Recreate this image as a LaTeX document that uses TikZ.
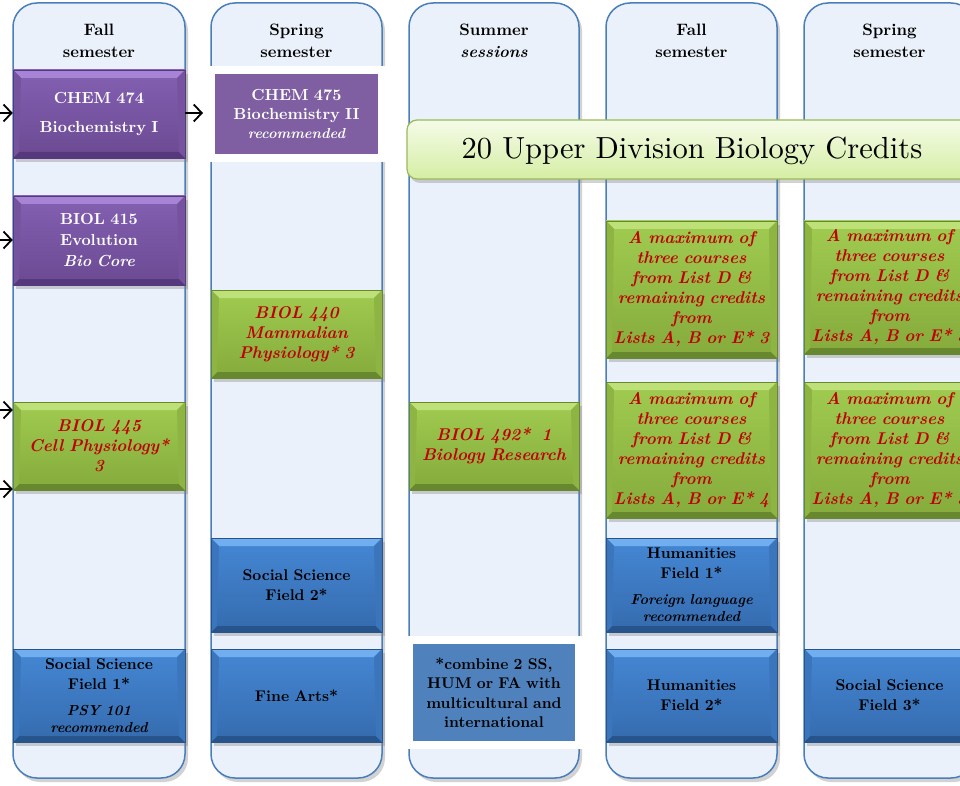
\documentclass[tikz,border=0pt]{standalone}
\usepackage{fontspec}
\setmainfont{lmroman10-regular.otf}[BoldFont=lmroman10-bold.otf,ItalicFont=lmroman10-italic.otf,BoldItalicFont=lmroman10-bolditalic.otf]
\usetikzlibrary{shadows,arrows.meta}
\definecolor{colfill}{HTML}{EAF1FA}
\definecolor{colborder}{HTML}{4A7EBB}
\definecolor{purpT}{HTML}{8460B2}
\definecolor{purpB}{HTML}{6B4A92}
\definecolor{purpL}{HTML}{A784D6}
\definecolor{purpD}{HTML}{56397C}
\definecolor{purpS}{HTML}{7A57A5}
\definecolor{purpflat}{HTML}{7F5FA1}
\definecolor{grnT}{HTML}{A0CB50}
\definecolor{grnB}{HTML}{85AB3C}
\definecolor{grnL}{HTML}{BEE078}
\definecolor{grnD}{HTML}{68882F}
\definecolor{grnS}{HTML}{91B847}
\definecolor{bluT}{HTML}{4587D4}
\definecolor{bluB}{HTML}{356BAE}
\definecolor{bluL}{HTML}{70AEF0}
\definecolor{bluD}{HTML}{28548C}
\definecolor{bluS}{HTML}{3D79C2}
\definecolor{bluflat}{HTML}{4F81BD}
\definecolor{redtxt}{HTML}{C00000}
\definecolor{titT}{HTML}{F5FBE8}
\definecolor{titB}{HTML}{D5EEA4}
\definecolor{titborder}{HTML}{9BBB59}
\tikzset{
  shad/.style={drop shadow={opacity=0.35,shadow xshift=3pt,shadow yshift=-4pt}},
  col/.style={draw=colborder,line width=1.5pt,fill=colfill,rounded corners=24pt,
    minimum width=172pt,minimum height=775pt,shad},
  hdr/.style={font=\bfseries\fontsize{16.5}{22}\selectfont,align=center,text width=160pt},
  bevel/.style n args={3}{path picture={
    \fill[#1] (path picture bounding box.north west) -- (path picture bounding box.north east)
      -- ([xshift=-8pt,yshift=-8pt]path picture bounding box.north east)
      -- ([xshift=8pt,yshift=-8pt]path picture bounding box.north west) -- cycle;
    \fill[#2] (path picture bounding box.south west) -- (path picture bounding box.south east)
      -- ([xshift=-6pt,yshift=6pt]path picture bounding box.south east)
      -- ([xshift=6pt,yshift=6pt]path picture bounding box.south west) -- cycle;
    \fill[#3] (path picture bounding box.north west)
      -- ([xshift=8pt,yshift=-8pt]path picture bounding box.north west)
      -- ([xshift=6pt,yshift=6pt]path picture bounding box.south west)
      -- (path picture bounding box.south west) -- cycle;
    \fill[#3] (path picture bounding box.north east)
      -- ([xshift=-8pt,yshift=-8pt]path picture bounding box.north east)
      -- ([xshift=-6pt,yshift=6pt]path picture bounding box.south east)
      -- (path picture bounding box.south east) -- cycle;
  }},
  boxbase/.style={minimum width=172pt,minimum height=88pt,inner sep=0pt,align=center,
    text width=168pt,shad},
  pbox/.style={boxbase,top color=purpT,bottom color=purpB,bevel={purpL}{purpD}{purpS!70!purpB},draw=purpD,line width=0.5pt,
    text=white,font=\bfseries\fontsize{16}{21}\selectfont},
  gbox/.style={boxbase,top color=grnT,bottom color=grnB,bevel={grnL}{grnD}{grnS!70!grnB},draw=grnD,line width=0.5pt,
    text=redtxt,font=\bfseries\itshape\fontsize{17}{20}\selectfont},
  bbox/.style={boxbase,top color=bluT,bottom color=bluB,bevel={bluL}{bluD}{bluS!70!bluB},draw=bluD,line width=0.5pt,
    text=black,font=\bfseries\fontsize{15.5}{20}\selectfont},
  framed/.style={draw=white,line width=8pt,inner sep=0pt,align=center,
    drop shadow={opacity=0.3,shadow xshift=3pt,shadow yshift=-4pt}},
  arr/.style={-{Straight Barb[length=8pt,width=17pt,line width=1.8pt]},line width=1.6pt,black}
}
\begin{document}
\begin{tikzpicture}[x=1pt,y=-1pt]
\clip (0,0) rectangle (960,786);
\fill[white] (0,0) rectangle (960,786);
% columns
\node[col] (c1) at (99,390.5) {};
\node[col,minimum width=171pt] (c2) at (296.5,390.5) {};
\node[col,minimum width=170pt] (c3) at (494,390.5) {};
\node[col,minimum width=171pt] (c4) at (691.5,390.5) {};
\node[col,minimum width=171pt] (c5) at (889.5,390.5) {};
% headers
\node[hdr] (h1) at (99,41) {Fall\\semester};
\node[hdr] (h2) at (296.5,41) {Spring\\semester};
\node[hdr] (h3) at (494,41) {Summer\\\textit{sessions}};
\node[hdr] (h4) at (691.5,41) {Fall\\semester};
\node[hdr] (h5) at (889.5,41) {Spring\\semester};
% purple
\node[pbox] (chem474) at (99,114) {CHEM 474\\[8pt]Biochemistry I};
\node[framed,fill=purpflat,minimum width=171pt,minimum height=88pt,text width=160pt,
  text=white,font=\bfseries\fontsize{16}{19}\selectfont] (chem475) at (296.5,114)
  {CHEM 475\\Biochemistry II\\{\itshape\fontsize{14.5}{19}\selectfont recommended}};
\node[pbox,minimum height=89pt] (biol415) at (99,240.5) {BIOL 415\\Evolution\\\textit{Bio Core}};
% green
\node[gbox,minimum width=171pt] (biol440) at (296.5,334) {BIOL 440\\Mammalian\\Physiology* 3};
\node[gbox] (biol445) at (99,446) {BIOL 445\\Cell Physiology*\\3};
\node[gbox,minimum width=170pt] (biol492) at (494,446) {BIOL 492*\ \ 1\\Biology Research};
\node[gbox,minimum width=171pt,minimum height=137pt] (l4a) at (691.5,289.5)
  {A maximum of\\three courses\\from List D \&\\remaining credits\\from\\Lists A, B or E* 3};
\node[gbox,minimum width=171pt,minimum height=133pt] (l5a) at (889.5,287.5)
  {A maximum of\\three courses\\from List D \&\\remaining credits\\from\\Lists A, B or E* 3};
\node[gbox,minimum width=171pt,minimum height=136pt] (l4b) at (691.5,450)
  {A maximum of\\three courses\\from List D \&\\remaining credits\\from\\Lists A, B or E* 4};
\node[gbox,minimum width=171pt,minimum height=136pt] (l5b) at (889.5,450)
  {A maximum of\\three courses\\from List D \&\\remaining credits\\from\\Lists A, B or E* 3};
% blue
\node[bbox,minimum width=171pt,minimum height=94pt] (ss2) at (296.5,585) {Social Science\\Field 2*};
\node[bbox,minimum width=171pt,minimum height=94pt] (hum1) at (691.5,585)
  {Humanities\\Field 1*\\[6pt]{\itshape\fontsize{14.5}{17}\selectfont Foreign language}\\[-3pt]{\itshape\fontsize{14.5}{17}\selectfont recommended}};
\node[bbox,minimum height=93pt] (ss1) at (99,695.5)
  {Social Science\\Field 1*\\[6pt]{\itshape\fontsize{14.5}{17}\selectfont PSY 101}\\[-3pt]{\itshape\fontsize{14.5}{17}\selectfont recommended}};
\node[bbox,minimum width=171pt,minimum height=93pt] (fa) at (296.5,695.5) {Fine Arts*};
\node[framed,fill=bluflat,minimum width=170pt,minimum height=105pt,text width=162pt,
  text=black,font=\bfseries\fontsize{15.5}{19.5}\selectfont] (comb) at (494,692.5)
  {*combine 2 SS,\\HUM or FA with\\multicultural and\\international};
\node[bbox,minimum width=171pt,minimum height=93pt] (hum2) at (691.5,695.5) {Humanities\\Field 2*};
\node[bbox,minimum width=171pt,minimum height=93pt] (ss3) at (889.5,695.5) {Social Science\\Field 3*};
% title
\node[rounded corners=10pt,draw=titborder,line width=1.2pt,top color=titT,bottom color=titB,
  minimum width=568pt,minimum height=59pt,inner sep=0pt,shad] (title) at (691,149.5) {};
\node[font=\fontsize{30.5}{32}\selectfont,inner sep=0pt] (titletext) at (692,151) {20 Upper Division Biology Credits};
% arrows
\coordinate (in1) at (-6,113);
\coordinate (in2) at (-6,240);
\coordinate (in3) at (-6,410);
\coordinate (in4) at (-6,489);
\draw[arr] (in1) -- (in1 -| chem474.west);
\draw[arr] (in2) -- (in2 -| biol415.west);
\draw[arr] (in3) -- (in3 -| biol445.west);
\draw[arr] (in4) -- (in4 -| biol445.west);
\draw[arr,shorten >=4pt] (chem474.east |- in1) -- (chem475.west |- in1);
\end{tikzpicture}
\end{document}
